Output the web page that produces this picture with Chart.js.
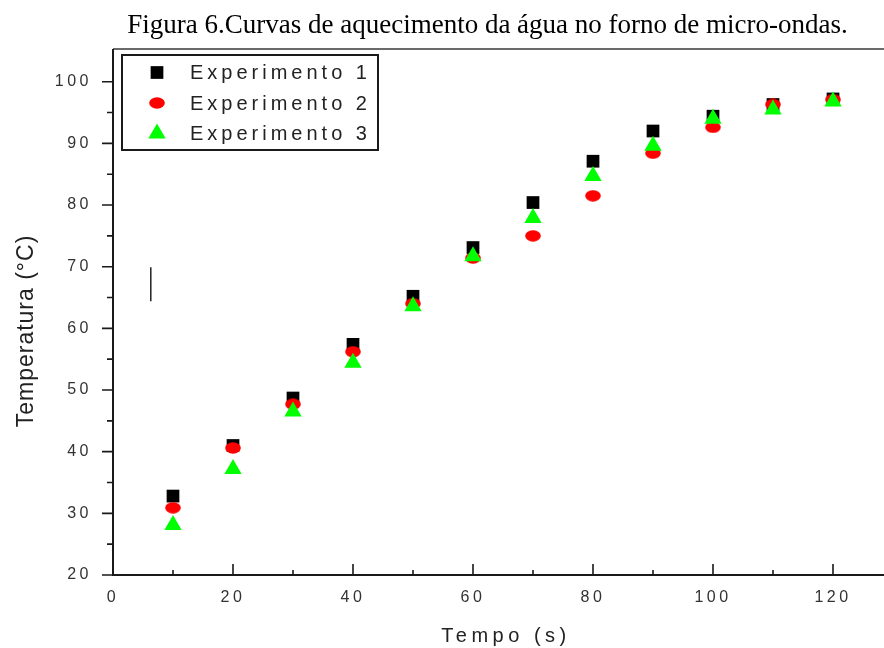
<!DOCTYPE html>
<html>
<head>
<meta charset="utf-8">
<script src="https://cdn.jsdelivr.net/npm/chart.js@4/dist/chart.umd.min.js"></script>
<style>
  html, body { margin: 0; padding: 0; background: #fff; }
  canvas { display: block; }
</style>
</head>
<body>
<canvas id="c" width="884" height="648"></canvas>
<script>
// ---- data ----
const tempo = [10, 20, 30, 40, 50, 60, 70, 80, 90, 100, 110, 120];
const experimento1 = [32.8, 41.0, 48.7, 57.4, 65.2, 73.1, 80.4, 87.1, 92.0, 94.4, 96.3, 97.2];
const experimento2 = [30.9, 40.6, 47.7, 56.2, 64.0, 71.4, 75.0, 81.5, 88.4, 92.6, 96.3, 97.1];
const experimento3 = [28.1, 37.2, 46.5, 54.4, 63.6, 71.7, 77.9, 84.7, 89.6, 94.0, 95.5, 96.8];
const seriesNames = ["Experimento 1", "Experimento 2", "Experimento 3"];
const xTickValues = [0, 20, 40, 60, 80, 100, 120];
const yTickValues = [20, 30, 40, 50, 60, 70, 80, 90, 100];
const markX = [6.3, 6.3];          // stray vertical mark in the original figure
const markY = [64.4, 69.9];
const chartTitle = "Figura 6.Curvas de aquecimento da água no forno de micro-ondas.";
const xAxisTitle = "Tempo (s)";
const yAxisTitle = "Temperatura (°C)";

const toPts = (ys) => tempo.map((t, i) => ({ x: t, y: ys[i] }));

// elliptical red marker
const ellipse = document.createElement('canvas');
ellipse.width = 16; ellipse.height = 12;
(function () {
  const g = ellipse.getContext('2d');
  g.fillStyle = '#ff0000';
  g.beginPath();
  g.ellipse(8, 6, 7.8, 5.8, 0, 0, Math.PI * 2);
  g.fill();
})();

const FONT = '"Liberation Sans", Arial, sans-serif';

const axisPlugin = {
  id: 'axisPlugin',
  beforeDraw(chart) {
    chart.ctx.letterSpacing = '3.5px';
  },
  beforeDatasetsDraw(chart) {
    const ctx = chart.ctx;
    const xs = chart.scales.x, ys = chart.scales.y;
    const a = chart.chartArea;
    ctx.save();
    // faint top rule
    ctx.strokeStyle = '#6a6a6a';
    ctx.lineWidth = 2;
    ctx.beginPath();
    ctx.moveTo(a.left, a.top);
    ctx.lineTo(chart.width, a.top);
    ctx.stroke();
    // axes
    ctx.strokeStyle = '#1a1a1a';
    ctx.lineWidth = 2;
    ctx.beginPath();
    ctx.moveTo(a.left, a.top);
    ctx.lineTo(a.left, a.bottom);
    ctx.lineTo(a.right, a.bottom);
    ctx.stroke();
    ctx.lineWidth = 1.6;
    ctx.beginPath();
    for (let v = 20; v <= 100; v += 5) {
      const py = ys.getPixelForValue(v);
      const len = (v % 10 === 0) ? 11 : 6;
      ctx.moveTo(a.left, py);
      ctx.lineTo(a.left - len, py);
    }
    for (let v = 0; v <= 125; v += 10) {
      const px = xs.getPixelForValue(v);
      const len = (v % 20 === 0) ? 11 : 5;
      ctx.moveTo(px, a.bottom);
      ctx.lineTo(px, a.bottom - len);
    }
    ctx.stroke();
    ctx.restore();
  },
  afterDraw(chart) {
    const ctx = chart.ctx;
    ctx.save();
    // title
    ctx.letterSpacing = '0px';
    ctx.fillStyle = '#000';
    ctx.textAlign = 'center';
    ctx.textBaseline = 'alphabetic';
    ctx.font = '27px "Liberation Serif", "Times New Roman", serif';
    ctx.fillText(chartTitle, 487.5, 33);

    // axis titles
    ctx.fillStyle = '#222';
    ctx.textBaseline = 'middle';
    ctx.letterSpacing = '4.5px';
    ctx.font = '20px ' + FONT;
    ctx.fillText(xAxisTitle, 506, 636);
    ctx.save();
    ctx.translate(27, 331);
    ctx.rotate(-Math.PI / 2);
    ctx.letterSpacing = '1px';
    ctx.font = '23px ' + FONT;
    ctx.fillText(yAxisTitle, 0, 0);
    ctx.restore();

    // legend box
    const bx = 122, by = 55, bw = 256, bh = 95;
    ctx.strokeStyle = '#1a1a1a';
    ctx.lineWidth = 2;
    ctx.strokeRect(bx, by, bw, bh);
    ctx.textAlign = 'left';
    ctx.letterSpacing = '4px';
    ctx.font = '20px ' + FONT;
    chart.data.datasets.slice(0, 3).forEach((ds, i) => {
      const cy = by + 17.5 + i * 30.5;
      ctx.fillStyle = ds.backgroundColor;
      Chart.helpers.drawPoint(ctx, {
        pointStyle: ds.pointStyle, radius: ds.pointRadius, borderWidth: 0, rotation: 0
      }, 157, cy);
      ctx.fillStyle = '#222';
      ctx.fillText(ds.label, 190, cy + 1);
    });
    ctx.restore();
  }
};

new Chart(document.getElementById('c'), {
  type: 'scatter',
  data: {
    datasets: [
      { label: seriesNames[0], data: toPts(experimento1), pointStyle: 'rect', pointRadius: 9,
        backgroundColor: '#000000', borderWidth: 0, order: 2 },
      { label: seriesNames[1], data: toPts(experimento2), pointStyle: ellipse, pointRadius: 7,
        backgroundColor: '#ff0000', borderWidth: 0, order: 1 },
      { label: seriesNames[2], data: toPts(experimento3), pointStyle: 'triangle', pointRadius: 10,
        backgroundColor: '#00ff00', borderWidth: 0, order: 0 },
      { label: 'mark', data: markX.map((x, i) => ({ x, y: markY[i] })), showLine: true,
        pointRadius: 0, borderColor: '#222', borderWidth: 1.5, order: 3 }
    ]
  },
  options: {
    responsive: false,
    animation: false,
    events: [],
    layout: { autoPadding: false, padding: { top: 49, right: 0, left: 0, bottom: 0 } },
    plugins: { legend: { display: false }, title: { display: false }, tooltip: { enabled: false } },
    scales: {
      x: {
        type: 'linear', min: 0, max: 128.5,
        grid: { display: false }, border: { display: false },
        afterBuildTicks: (s) => { s.ticks = xTickValues.map(v => ({ value: v })); },
        afterFit: (s) => { s.height = 73; s.paddingLeft = 0; s.paddingRight = 0; },
        ticks: { padding: 5, color: '#333', maxRotation: 0, autoSkip: false,
                 font: { family: FONT, size: 16 } }
      },
      y: {
        type: 'linear', min: 20, max: 105.3,
        grid: { display: false }, border: { display: false },
        afterBuildTicks: (s) => { s.ticks = yTickValues.map(v => ({ value: v })); },
        afterFit: (s) => { s.width = 113; s.paddingTop = 0; s.paddingBottom = 0; },
        ticks: { padding: 13, color: '#333', autoSkip: false,
                 font: { family: FONT, size: 16 } }
      }
    }
  },
  plugins: [axisPlugin]
});
</script>
</body>
</html>
